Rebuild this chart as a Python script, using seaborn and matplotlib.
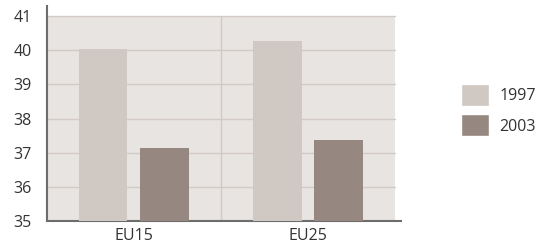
import pandas as pd
import seaborn as sns
import matplotlib.pyplot as plt
from matplotlib.patches import Patch

# data
regions = ["EU15", "EU25"]
years = ["1997", "2003"]
values_1997 = [40.03, 40.26]
values_2003 = [37.15, 37.38]

colors = {"1997": "#cfc8c3", "2003": "#968880"}

df = pd.DataFrame({
    "region": regions * 2,
    "year": [years[0]] * 2 + [years[1]] * 2,
    "value": values_1997 + values_2003,
})

sns.set_style("white")
plt.rcParams['font.family'] = ['Open Sans', 'DejaVu Sans']

fig = plt.figure(figsize=(5.45, 2.5), dpi=100)
ax = fig.add_axes([0.086, 0.116, 0.65, 0.86])

sns.barplot(data=df, x="region", y="value", hue="year", palette=colors,
            width=0.705, gap=0.21, saturation=1, linewidth=0,
            ax=ax, legend=False, zorder=3)

ax.set_xlim(-0.5, 1.535)
ax.set_ylim(35, 41.3)
xfrac = 2.0 / 2.035
ax.axhspan(35, 41, xmin=0, xmax=xfrac, color="#e8e4e1", zorder=0, lw=0)
for y in range(36, 42):
    ax.axhline(y, xmin=0, xmax=xfrac, color="#d2cac5", lw=1, zorder=1)
ax.plot([0.5, 0.5], [35, 41], color="#d2cac5", lw=1, zorder=1)

ax.set_yticks(range(35, 42))
ax.set_xlabel("")
ax.set_ylabel("")
ax.tick_params(axis="both", length=0, labelsize=11.5, labelcolor="#333333")
ax.tick_params(axis="y", pad=11)
ax.tick_params(axis="x", pad=5)

for s in ["top", "right"]:
    ax.spines[s].set_visible(False)
for s in ["left", "bottom"]:
    ax.spines[s].set_color("#6d6d6d")
    ax.spines[s].set_linewidth(1.5)

handles = [Patch(facecolor=colors[y], label=y) for y in years]
fig.legend(handles=handles, loc="center left", bbox_to_anchor=(0.82, 0.56),
           frameon=False, fontsize=11.5, handlelength=1.75, handleheight=1.75,
           labelspacing=0.55, handletextpad=0.65, labelcolor="#333333")

fig.savefig("out.png", dpi=100)
